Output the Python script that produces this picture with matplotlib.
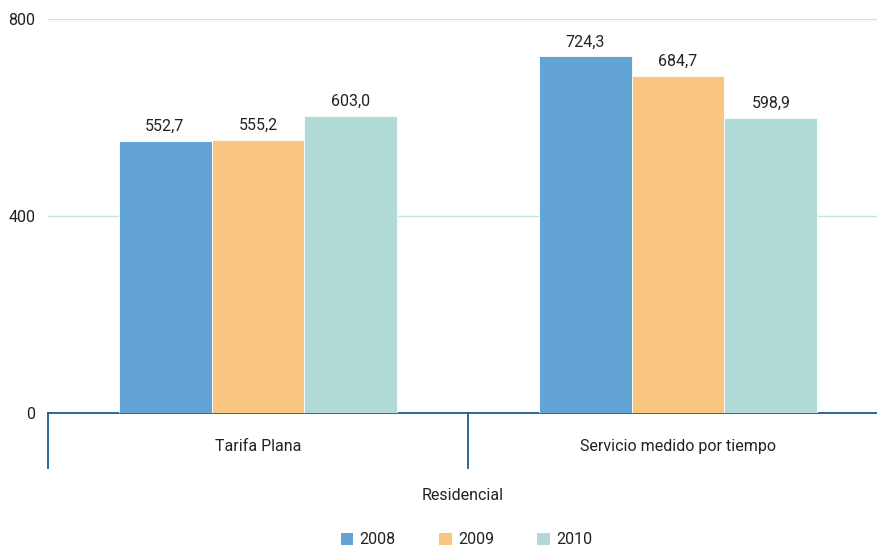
import matplotlib
matplotlib.use("Agg")
from matplotlib import pyplot as plt
from matplotlib.patches import Patch
import matplotlib.transforms as mtransforms
import numpy as np

# datos
categorias = ['Tarifa Plana', 'Servicio medido por tiempo']
grupo = 'Residencial'
anios = ['2008', '2009', '2010']
valores_2008 = [552.7, 724.3]
valores_2009 = [555.2, 684.7]
valores_2010 = [603.0, 598.9]
colores = ['#62a4d4', '#f9c682', '#b0dad5']

plt.rcParams['font.family'] = ['Roboto', 'DejaVu Sans']
texto = '#222222'
fs = 11.5

fig = plt.figure(figsize=(8.77, 5.47), dpi=100)
ax = fig.add_axes([48 / 877, (547 - 413) / 547, 1 - 48 / 877, 394 / 547])

x = np.arange(len(categorias))
ancho = 0.2214
series = [valores_2008, valores_2009, valores_2010]
for i, (vals, c) in enumerate(zip(series, colores)):
    pos = x + (i - 1) * ancho
    ax.bar(pos, vals, width=ancho, color=c, edgecolor='white', linewidth=0.6, zorder=3)
    for p, v in zip(pos, vals):
        ax.text(p, v + 14, f'{v:.1f}'.replace('.', ','), ha='center', va='bottom',
                fontsize=fs, color=texto)

ax.set_ylim(0, 800)
ax.set_xlim(-0.5, 1.5 - 11 / 420)
ax.set_yticks([0, 400, 800])
ax.set_yticklabels(['0', '400', '800'], fontsize=fs, color=texto)
ax.tick_params(axis='y', length=0, pad=9)
ax.set_xticks([])
ax.grid(axis='y', color='#c8e3e0', linewidth=1, zorder=0)
for s in ['top', 'right', 'left']:
    ax.spines[s].set_visible(False)
ax.spines['bottom'].set_color('#1f5a8c')
ax.spines['bottom'].set_linewidth(1.3)

# separadores de categorias
trans = mtransforms.blended_transform_factory(ax.transData, ax.transAxes)
for xs in [-0.5, 0.5, 1.5]:
    ax.plot([xs, xs], [0, -0.14], color='#1f5a8c', linewidth=1.3,
            transform=trans, clip_on=False)
for xi, cat in zip(x, categorias):
    ax.text(xi, -0.085, cat, transform=trans, ha='center', va='center',
            fontsize=fs, color=texto)
ax.text(0.5, -0.21, grupo, transform=ax.transAxes, ha='center', va='center',
        fontsize=fs, color=texto)

handles = [Patch(facecolor=c, label=a) for c, a in zip(colores, anios)]
fig.legend(handles=handles, loc='center', bbox_to_anchor=(0.532, 0.013),
           ncol=3, frameon=False, fontsize=fs, handlelength=0.8, handleheight=0.8,
           handletextpad=0.4, columnspacing=2.7, labelcolor=texto)

fig.savefig('out.png', dpi=100)
